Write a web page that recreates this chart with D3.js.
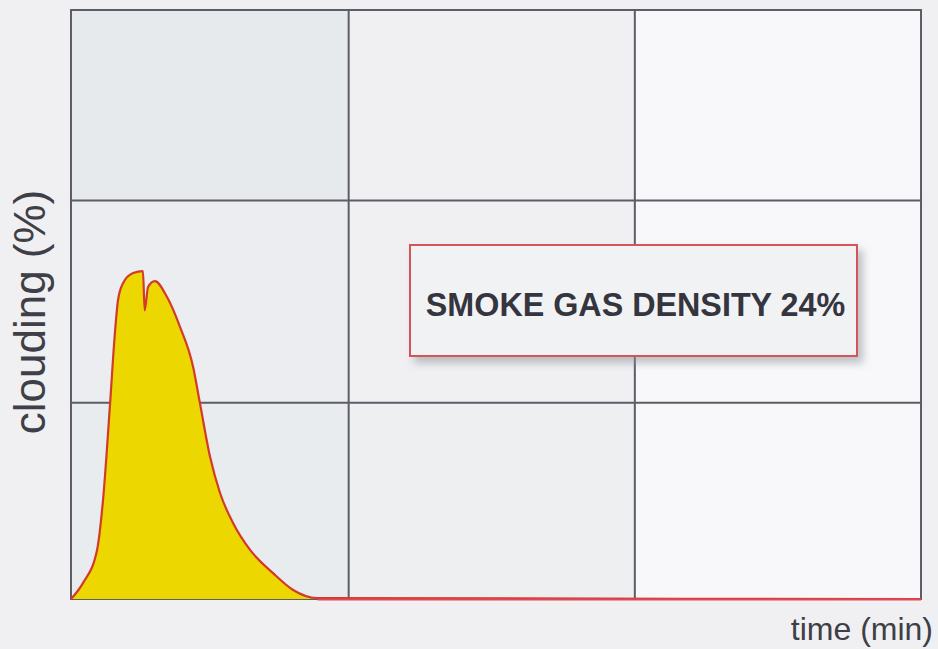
<!DOCTYPE html>
<html>
<head>
<meta charset="utf-8">
<script src="https://cdn.jsdelivr.net/npm/d3@7/dist/d3.min.js"></script>
<style>
  html, body { margin: 0; padding: 0; background: #f0f0f2; }
  svg { display: block; }
</style>
</head>
<body>
<svg id="chart" width="938" height="649"></svg>
<script>
// ---- data ----
const timeMin  = [0, 0.42, 0.92, 1.13, 1.38, 1.55, 1.66, 1.84, 2.19, 2.54, 2.60, 2.72, 2.96, 3.39, 3.85, 4.31, 4.55, 4.91, 5.26, 5.72, 6.32, 7.13, 7.84, 8.68, 30];
const clouding = [0, 0.81, 2.50, 5.04, 9.98, 13.55, 15.23, 16.09, 16.60, 16.70, 14.70, 15.89, 16.19, 15.38, 13.85, 11.82, 9.98, 7.23, 5.40, 3.87, 2.50, 1.32, 0.46, 0.05, 0];
const xGridValues = [0, 9.8, 19.9, 30];
const yGridValues = [0, 10, 20.3, 30];
const xLabel = "time (min)";
const yLabel = "clouding (%)";
const annotation = "SMOKE GAS DENSITY 24%";

// ---- layout ----
const svg = d3.select("#chart");
const margin = { left: 71, right: 17, top: 10, bottom: 50 };
const W = 938, H = 649;
const x = d3.scaleLinear().domain([0, 30]).range([margin.left, W - margin.right]);
const y = d3.scaleLinear().domain([0, 30]).range([H - margin.bottom, margin.top]);

const defs = svg.append("defs");
const f = defs.append("filter").attr("id", "shadow").attr("x", "-10%").attr("y", "-20%").attr("width", "130%").attr("height", "160%");
f.append("feDropShadow").attr("dx", 5).attr("dy", 6).attr("stdDeviation", 4).attr("flood-color", "#8a9099").attr("flood-opacity", 0.55);

// cell shading (columns x rows, from top row to bottom)
const cellColors = [
  ["#e7eaed", "#f0f0f3", "#f8f8fa"],
  ["#ebedf0", "#f0f0f3", "#f8f8fa"],
  ["#e9ecef", "#eeeff1", "#f8f8fa"]
];
const rowsTopDown = yGridValues.slice().reverse();
for (let r = 0; r < 3; r++) {
  for (let c = 0; c < 3; c++) {
    svg.append("rect")
      .attr("x", x(xGridValues[c]))
      .attr("y", y(rowsTopDown[r]))
      .attr("width", x(xGridValues[c + 1]) - x(xGridValues[c]))
      .attr("height", y(rowsTopDown[r + 1]) - y(rowsTopDown[r]))
      .attr("fill", cellColors[r][c]);
  }
}

// area
const pts = timeMin.map((t, i) => [t, clouding[i]]);
const area = d3.area().x(d => x(d[0])).y0(y(0)).y1(d => y(d[1])).curve(d3.curveMonotoneX);
const line = d3.line().x(d => x(d[0])).y(d => y(d[1])).curve(d3.curveMonotoneX);

// grid
const gridColor = "#5c5d66";
svg.append("g").selectAll("line").data(xGridValues).join("line")
  .attr("x1", d => x(d)).attr("x2", d => x(d))
  .attr("y1", y(0)).attr("y2", y(30))
  .attr("stroke", gridColor).attr("stroke-width", 2);
svg.append("g").selectAll("line").data(yGridValues).join("line")
  .attr("x1", x(0) - 1).attr("x2", x(30) + 1)
  .attr("y1", d => y(d)).attr("y2", d => y(d))
  .attr("stroke", gridColor).attr("stroke-width", 2);

svg.append("path").datum(pts).attr("d", area).attr("fill", "#ecd800");
svg.append("path").datum(pts).attr("d", line)
  .attr("fill", "none").attr("stroke", "#d23a2a").attr("stroke-width", 2.2)
  .attr("stroke-linejoin", "round");
// red baseline along zero after the curve
svg.append("line")
  .attr("x1", x(8.7)).attr("x2", x(30)).attr("y1", y(0) + 0.5).attr("y2", y(0) + 0.5)
  .attr("stroke", "#e0485a").attr("stroke-width", 2.2);

// annotation box
const bx = 410, by = 245, bw = 447, bh = 111;
svg.append("rect").attr("x", bx).attr("y", by).attr("width", bw).attr("height", bh)
  .attr("fill", "#f1f2f4").attr("stroke", "#d2545a").attr("stroke-width", 2)
  .attr("filter", "url(#shadow)");
svg.append("text").attr("x", bx + bw / 2 + 2).attr("y", 316)
  .attr("text-anchor", "middle")
  .attr("font-family", "Liberation Sans, Arial, sans-serif")
  .attr("font-weight", "bold").attr("font-size", 32.3)
  .attr("fill", "#34353e").text(annotation);

// axis labels
svg.append("text").attr("x", 933).attr("y", 640)
  .attr("text-anchor", "end")
  .attr("font-family", "Liberation Sans, Arial, sans-serif")
  .attr("font-size", 32).attr("fill", "#3e3f47").text(xLabel);
svg.append("text").attr("transform", "translate(45,312) rotate(-90)")
  .attr("text-anchor", "middle")
  .attr("font-family", "Liberation Sans, Arial, sans-serif")
  .attr("font-size", 44).attr("fill", "#3e3f47").text(yLabel);
</script>
</body>
</html>
